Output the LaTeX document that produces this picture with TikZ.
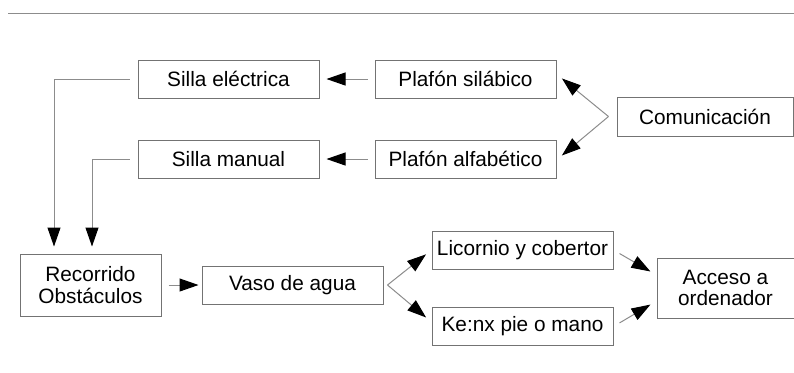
\documentclass[tikz,border=0pt]{standalone}
\usepackage{fontspec}
\setmainfont{Liberation Sans}
\usetikzlibrary{arrows.meta}

\definecolor{boxgray}{gray}{0.45}
\definecolor{linegray}{gray}{0.55}

\tikzset{
  box/.style={draw=boxgray, line width=0.5pt, minimum width=90.5pt, minimum height=19pt,
    inner sep=1pt, align=center, font=\fontsize{10.4}{10.6}\selectfont},
  link/.style={draw=linegray, line width=0.5pt,
    -{Triangle[color=black, length=9.5pt, width=6.5pt]},
    shorten <=3.5pt, shorten >=3.5pt}
}

\begin{document}
\begin{tikzpicture}[x=0.5pt, y=-0.5pt, node distance=118.5pt]
  \useasboundingbox (0,0) rectangle (794,372);
  \draw[linegray, line width=0.5pt] (8,13) -- (794,13);

  \node (SE) [box] at (228.5,79) {Silla eléctrica};
  \node (PS) [box, right of=SE] {Plafón silábico};
  \node (SM) [box, below of=SE, node distance=40pt] {Silla manual};
  \node (PA) [box, right of=SM] {Plafón alfabético};
  \node (COM) [box, minimum width=88pt, minimum height=19.5pt] at (705,116.5) {Comunicación};
  \node (RO) [box, minimum width=70.5pt, minimum height=31pt] at (90.5,285) {Recorrido\\Obstáculos};
  \node (VA) [box] at (292.5,285) {Vaso de agua};
  \node (LC) [box] at (522.5,250) {Licornio y cobertor};
  \node (KN) [box] at (522.5,326.5) {Ke:nx pie o mano};
  \node (AO) [box, minimum width=68.5pt, minimum height=30pt] at (725.5,288) {Acceso a\\ordenador};

  \coordinate (CF) at ([xshift=-4pt]COM.west);
  \coordinate (VF) at ([xshift=2pt]VA.east);

  \draw[link] (PS) -- (SE);
  \draw[link] (PA) -- (SM);
  \draw[link, shorten <=0pt] (CF) -- ([yshift=2.5pt]PS.east);
  \draw[link, shorten <=0pt] (CF) -- ([yshift=-0.5pt]PA.east);
  \draw[link, shorten <=4pt] (SE.west) -| ([xshift=-18.25pt]RO.north);
  \draw[link, shorten <=4pt] (SM.west) -| ([xshift=0.75pt]RO.north);
  \draw[link, shorten >=1.5pt] (RO) -- (VA);
  \draw[link, shorten <=0pt] (VF) -- (LC.west);
  \draw[link, shorten <=0pt] (VF) -- ([yshift=2.25pt]KN.west);
  \draw[link] (LC.east) -- ([yshift=6.5pt]AO.west);
  \draw[link] (KN.east) -- ([yshift=-6.5pt]AO.west);
\end{tikzpicture}
\end{document}
